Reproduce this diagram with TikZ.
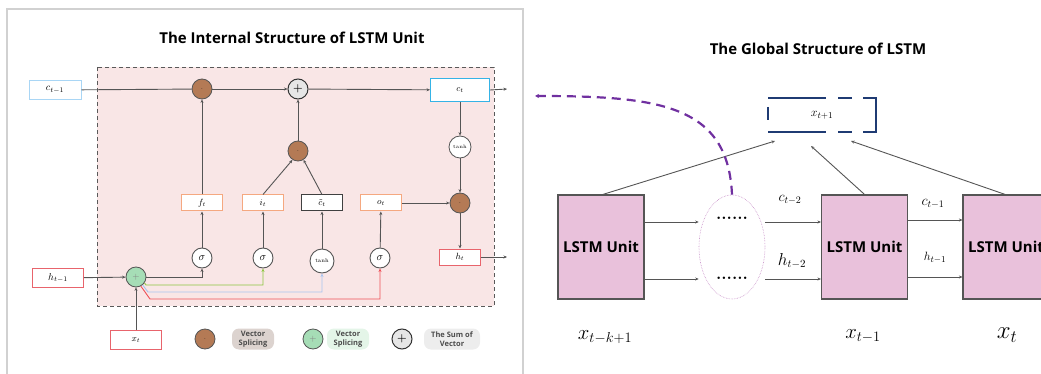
\documentclass[tikz,border=0pt]{standalone}
\usepackage{fontspec}
\setsansfont{Open Sans}
\usetikzlibrary{arrows.meta,shapes.geometric,calc}
\definecolor{pinkbg}{HTML}{F9E6E6}
\definecolor{brownc}{HTML}{B47A55}
\definecolor{greenc}{HTML}{A6DDB6}
\definecolor{sumc}{HTML}{E6E6E6}
\definecolor{cblueA}{HTML}{A9D6F5}
\definecolor{cblueB}{HTML}{35B3E6}
\definecolor{orangeb}{HTML}{F5A880}
\definecolor{redb}{HTML}{E8646C}
\definecolor{greenl}{HTML}{8DC63F}
\definecolor{bluel}{HTML}{A8C4F0}
\definecolor{redl}{HTML}{EE5058}
\definecolor{darkblue}{HTML}{1F3B73}
\definecolor{purpled}{HTML}{7030A0}
\definecolor{lstmpink}{HTML}{E9C1DB}
\definecolor{linegray}{HTML}{555555}
\definecolor{legA}{HTML}{DCD3CF}
\definecolor{legB}{HTML}{E4F5E8}
\definecolor{legC}{HTML}{EDEDED}
\begin{document}
\begin{tikzpicture}[x=1pt,y=-1pt,
  >={Stealth[length=3.5pt,width=3pt]},
  conn/.style={draw=linegray,line width=0.9pt},
  gbox/.style={draw,line width=1pt,fill=white,minimum width=41pt,minimum height=16pt,inner sep=0pt,font=\fontsize{9}{9}\selectfont},
  opc/.style={circle,draw=linegray,line width=0.8pt,minimum size=20pt,inner sep=0pt,font=\fontsize{6}{7}\selectfont},
  sigc/.style={circle,draw=linegray,line width=0.9pt,fill=white,minimum size=20pt,inner sep=0pt,font=\fontsize{11}{11}\selectfont},
  leg/.style={rounded corners=7pt,minimum width=42pt,minimum height=21pt,inner sep=1pt,align=center,font=\sffamily\bfseries\fontsize{7.5}{8.5}\selectfont,text=black!70},
  unit/.style={draw=linegray,line width=1.2pt,fill=lstmpink,minimum width=86pt,minimum height=104pt,inner sep=0pt,font=\sffamily\bfseries\fontsize{15}{15}\selectfont},
  ttl/.style={font=\sffamily\bfseries\fontsize{15}{16}\selectfont},
  xbr/.style={draw=darkblue,line width=2.2pt}]
\useasboundingbox (0,0) rectangle (1041,374);
\clip (0,0) rectangle (1041,374);
% frame of left panel
\draw[black!18,line width=1.3pt] (7,374) -- (7,9) -- (523,9) -- (523,374);
% ---------------- left panel ----------------
\node[ttl] (t1) at (292,38) {The Internal Structure of LSTM Unit};
\draw[draw=black!65,fill=pinkbg,line width=0.9pt,dash pattern=on 4pt off 3pt] (97,67) rectangle (494,306);

\node[gbox,draw=cblueA,minimum width=52pt,minimum height=19pt,font=\fontsize{10}{10}\selectfont] (cprev) at (55,90) {$c_{t-1}$};
\node[opc,fill=brownc] (m1) at (202,89) {$\cdot$};
\node[opc,fill=sumc,line width=1pt,draw=black!80,font=\bfseries\fontsize{11}{11}\selectfont] (sum) at (298,89) {+};
\node[gbox,draw=cblueB,minimum width=59pt,minimum height=23pt] (ct) at (460,90) {$c_t$};
\coordinate (cout) at (507,89);
\node[opc,fill=brownc] (m2) at (298,151) {$\cdot$};
\node[opc,fill=white,minimum size=22pt,font=\fontsize{5}{5}\selectfont] (tc) at (460,147) {$\tanh$};
\node[opc,fill=brownc] (m3) at (460,203) {$\cdot$};
\node[gbox,draw=redb] (ht) at (460,257) {$h_t$};
\coordinate (hout) at (507,257);

\node[gbox,draw=orangeb] (ft) at (202,203) {$f_t$};
\node[gbox,draw=orangeb] (it) at (263,203) {$i_t$};
\node[gbox,draw=black!75] (cht) at (322,203) {$\tilde{c}_t$};
\node[gbox,draw=orangeb] (ot) at (381,203) {$o_t$};

\node[sigc] (s1) at (202,258) {$\sigma$};
\node[sigc] (s2) at (263,258) {$\sigma$};
\node[sigc,minimum size=24pt,font=\fontsize{5.5}{5.5}\selectfont] (s3) at (322,261) {$\tanh$};
\node[sigc] (s4) at (380,258) {$\sigma$};

\node[gbox,draw=redb,minimum width=51pt,minimum height=19pt,font=\fontsize{10}{10}\selectfont] (hprev) at (58,278) {$h_{t-1}$};
\node[opc,fill=greenc,font=\fontsize{9}{9}\selectfont,text=black!50] (g) at (136,277) {+};
\node[gbox,draw=redb,minimum width=51pt,minimum height=19pt] (xt) at (136,340) {$x_t$};

% connectors
\draw[conn] (cprev) -- (m1);
\draw[conn,->] (m1) -- (sum);
\draw[conn,->] (sum) -- (ct);
\draw[conn,->] (ct.east) -- (cout);
\draw[conn,->] (ct) -- (tc);
\draw[conn,->] (tc) -- (m3);
\draw[conn,->] (ot) -- (m3);
\draw[conn,->] (m3) -- (ht);
\draw[conn,->] (ht.east) -- (hout);
\draw[conn,->] (ft) -- (m1);
\draw[conn,->] (it.north) -- (m2.-122);
\draw[conn,->] (cht.north) -- (m2.-58);
\draw[conn,->] (m2) -- (sum);
\draw[conn,->] (s1) -- (ft);
\draw[conn,->] (s2) -- (it);
\draw[conn,->] (s3) -- (cht);
\draw[conn,->] (s4) -- (ot);
\draw[conn,->] (hprev) -- (g);
\draw[conn,->] (xt) -- (g);
\draw[conn,->] (g.east) -| (s1.south);
\draw[greenl,line width=0.9pt,->] (g.-35) -- (146,285) -| (s2.south);
\draw[bluel,line width=0.9pt,->] (g.-50) -- (148,292) -| (s3.south);
\draw[redl,line width=0.9pt,->] (g.-62) -- (150,299) -| (s4.south);

% legend
\node[opc,fill=brownc] (l1) at (205,339) {$\cdot$};
\node[leg,fill=legA] (l1t) at (253,339) {Vector\\Splicing};
\node[opc,fill=greenc,font=\fontsize{9}{9}\selectfont,text=black!50] (l2) at (313,339) {+};
\node[leg,fill=legB] (l2t) at (348,339) {Vector\\Splicing};
\node[opc,fill=sumc,line width=1pt,draw=black!80,font=\bfseries\fontsize{11}{11}\selectfont] (l3) at (402,339) {+};
\node[leg,fill=legC,minimum width=56pt] (l3t) at (452,339) {The Sum of\\Vector};

% ---------------- right panel ----------------
\node[ttl] (t2) at (818,49) {The Global Structure of LSTM};
\node[minimum width=108pt,minimum height=34pt,inner sep=0pt,font=\fontsize{13}{13}\selectfont] (xn) at (822,115) {$x_{t+1}$};
\draw[xbr] (768,98) -- (826,98);
\draw[xbr] (838,98) -- (852,98);
\draw[xbr] (863,98) -- (876,98) -- (876,132) -- (863,132);
\draw[xbr] (838,132) -- (852,132);
\draw[xbr] (768,132) -- (826,132);
\draw[xbr] (768,107) -- (768,120);

\node[unit] (u1) at (601,247) {LSTM Unit};
\node[unit] (u2) at (864.5,247) {LSTM Unit};
\node[unit] (u3) at (1006,247) {LSTM Unit};
\node[ellipse,draw=violet!45,densely dotted,line width=0.6pt,minimum width=66pt,minimum height=104pt,inner sep=0pt] (el) at (732,247) {};
\node[font=\bfseries\fontsize{17}{17}\selectfont] (d1) at (732,218) {......};
\node[font=\bfseries\fontsize{17}{17}\selectfont] (d2) at (732,278) {......};

\coordinate (ya) at (0,222);
\coordinate (yb) at (0,279);
\coordinate (yc) at (0,220);
\coordinate (yd) at (0,277);
\draw[conn,->] (u1.east|-ya) -- (el.west|-ya);
\draw[conn,->] (u1.east|-yb) -- (el.west|-yb);
\draw[conn,->] (el.east|-ya) -- (u2.west|-ya);
\draw[conn,->] (el.east|-yb) -- (u2.west|-yb);
\draw[conn,->] (u2.east|-yc) -- (u3.west|-yc);
\draw[conn,->] (u2.east|-yd) -- (u3.west|-yd);
\node[font=\fontsize{14}{14}\selectfont] (lc2) at (790,200) {$c_{t-2}$};
\node[font=\fontsize{16}{16}\selectfont] (lh2) at (792,261) {$h_{t-2}$};
\node[font=\fontsize{14}{14}\selectfont] (lc1) at (933,204) {$c_{t-1}$};
\node[font=\fontsize{13}{13}\selectfont] (lh1) at (935,258) {$h_{t-1}$};

\coordinate (a1) at (775,141);
\coordinate (a2) at (811,146);
\coordinate (a3) at (851,141);
\draw[conn,->] ($(u1.north)+(2,0)$) -- (a1);
\draw[conn,->] (u2.north) -- (a2);
\draw[conn,->] ($(u3.north)+(-1,0)$) -- (a3);

\coordinate (pa) at (535,96);
\draw[purpled,line width=2.2pt,dash pattern=on 9pt off 6pt,-{Stealth[length=4pt,width=4pt]}] (el.north) .. controls (728,105) and (660,96) .. (pa);

\node[font=\fontsize{20}{20}\selectfont] (x1) at (605,337) {$x_{t-k+1}$};
\node[font=\fontsize{20}{20}\selectfont] (x2) at (863,336) {$x_{t-1}$};
\node[font=\fontsize{23}{23}\selectfont] (x3) at (1007,335) {$x_t$};
\end{tikzpicture}
\end{document}
